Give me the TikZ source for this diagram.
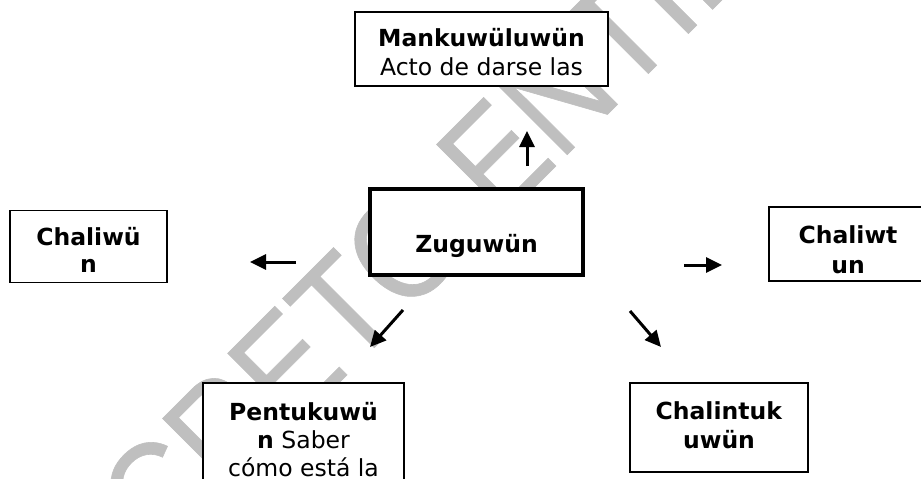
\documentclass[tikz,border=0pt]{standalone}
\usepackage{fontspec}
\setmainfont{DejaVu Sans}
\newfontfamily\marcafont[FakeStretch=0.88,FakeBold=0.4]{Liberation Sans}
\usetikzlibrary{positioning,arrows.meta}

\tikzset{
  caja/.style={draw, fill=white, line width=1.8pt, inner sep=0pt},
  linea/.style={anchor=base, inner sep=0pt, font=\fontsize{23.5}{28}\selectfont},
  flecha/.style={line width=3pt, -{Triangle[length=16pt,width=15pt]}}
}

\begin{document}
\begin{tikzpicture}[x=1pt,y=-1pt]
\useasboundingbox (0,0) rectangle (921,479);

% marca de agua
\node[rotate=45, anchor=base west, text=black!25, inner sep=0pt, font=\marcafont\fontsize{145}{145}\selectfont] (marca) at (40,682) {SECRETO ENTIDAD};

% cajas: nombre/cx/cy/ancho/alto
\foreach \nm/\cx/\cy/\w/\h in {mank/481.5/49/253/74, chaliwun/88.5/246.5/157/72, chaliwtun/848/244/158/74, pent/303.5/443/201/120, chalint/719/427.5/178/89} {
    \node[caja, minimum width=\w pt, minimum height=\h pt] (\nm) at (\cx,\cy) {};
}
\node[caja, line width=4pt, minimum width=213pt, minimum height=86pt] (zug) at (476.5,232) {};

% textos
\foreach \nm/\x/\y/\txt in {mank1/481.5/46/\textbf{Mankuwüluwün}, mank2/481.5/75/Acto de darse las,
    chaliwun1/88.5/245/\textbf{Chaliwü}, chaliwun2/88.5/272/\textbf{n},
    zug1/476.5/252/\textbf{Zuguwün},
    chaliwtun1/848/243/\textbf{Chaliwt}, chaliwtun2/848/273/\textbf{un},
    pent1/303.5/420/\textbf{Pentukuwü}, pent2/303.5/448/\textbf{n} Saber, pent3/303.5/476/cómo está la,
    chalint1/719/419/\textbf{Chalintuk}, chalint2/719/448/\textbf{uwün}} {
    \node[linea] (\nm) at (\x,\y) {\txt};
}

% flechas
\coordinate (arribaA) at (527,166);  \coordinate (arribaB) at (527,131);
\coordinate (izqA) at (296,262);     \coordinate (izqB) at (250,262);
\coordinate (derA) at (684,265);     \coordinate (derB) at (722,265);
\coordinate (abizqA) at (403,310);   \coordinate (abizqB) at (370,347);
\coordinate (abderA) at (630,311);   \coordinate (abderB) at (661,347);

\foreach \a/\b in {arribaA/arribaB, izqA/izqB, derA/derB, abizqA/abizqB, abderA/abderB} {
    \draw[flecha] (\a) -- (\b);
}
\end{tikzpicture}
\end{document}
